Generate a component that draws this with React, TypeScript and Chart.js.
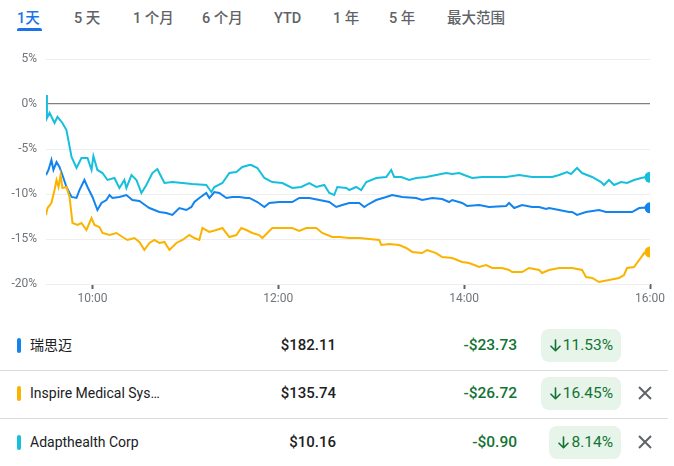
import React, { useEffect, useRef } from 'react';
import { Chart, registerables } from 'chart.js';

Chart.register(...registerables);

// ---------- data ----------
const tabLabels = ['1天', '5 天', '1 个月', '6 个月', 'YTD', '1 年', '5 年', '最大范围'];

// minutes after 9:30
const xTickMinutes = [30, 150, 270, 390];
const xTickLabels = ['10:00', '12:00', '14:00', '16:00'];

// [minutes after 9:30, % change]
const resmedPoints: [number, number][] = [
  [0, -7.89], [1.6, -7.33], [3.5, -6.22], [4.8, -7.33], [6.8, -6.44], [8.7, -7.0], [10.6, -7.89],
  [13.2, -9.22], [16.5, -10.33], [19.7, -10.44], [21.6, -9.56], [24.8, -8.44], [26.8, -9.22],
  [30, -10.33], [33.2, -11.78], [35.8, -11.0], [39, -10.67], [41, -10.11], [42.9, -10.44],
  [47.4, -10.33], [51.9, -10.11], [55.8, -10.67], [60.3, -10.78], [64.8, -11.33], [66.8, -11.56],
  [73.2, -12.0], [77.7, -12.11], [81.6, -12.33], [86.1, -11.56], [90.6, -11.78], [93.9, -11.44],
  [95.8, -10.89], [99, -10.44], [103.5, -9.89], [105.5, -10.44], [108.7, -9.78], [111.9, -9.89],
  [116.5, -10.44], [120.3, -10.33], [124.8, -10.33], [129.4, -10.44], [131.3, -10.44],
  [136.5, -10.89], [141, -11.44], [144.2, -11.0], [150.6, -10.89], [159, -10.89], [163.5, -10.44],
  [170, -10.44], [176.5, -10.67], [182.9, -10.89], [187.4, -11.44], [191.3, -11.22], [195.8, -11.0],
  [200.3, -11.0], [202.3, -11.0], [205.5, -11.44], [207.4, -11.22], [213.2, -10.67], [219.7, -10.33],
  [223.5, -10.11], [230, -10.33], [239, -10.44], [242.9, -10.67], [249.4, -10.44], [255.8, -10.56],
  [260.3, -10.89], [262.3, -10.67], [268.7, -11.0], [271.9, -11.33], [279.7, -11.22], [286.1, -11.44],
  [297.1, -11.33], [299, -11.0], [302.3, -11.56], [307.4, -11.22], [313.9, -11.44], [318.4, -11.44],
  [322.9, -11.67], [324.8, -11.56], [331.3, -11.78], [337.7, -12.0], [339.7, -12.0], [342.9, -12.33],
  [348.7, -12.0], [357.1, -11.78], [361.6, -12.0], [365.5, -12.0], [371.9, -12.0], [378.4, -12.0],
  [383, -11.56], [387.6, -11.5], [390, -11.53],
];

const inspirePoints: [number, number][] = [
  [0, -12.33], [1, -11.56], [3.5, -11.0], [5.5, -9.56], [6.8, -8.44], [8.1, -9.22], [9.4, -7.89],
  [10.6, -9.33], [13.2, -9.22], [15.2, -10.33], [17.1, -13.22], [20.3, -13.44], [22.9, -13.22],
  [26.1, -14.0], [29.4, -12.67], [31.3, -13.44], [34.5, -13.67], [36.5, -14.33], [41, -14.56],
  [45.5, -14.33], [49.4, -14.78], [52.6, -15.11], [57.1, -14.89], [60.3, -15.33], [63.5, -16.22],
  [66.8, -15.44], [70, -15.11], [73.2, -15.44], [76.5, -15.33], [79.7, -16.22], [84.2, -15.44],
  [88.1, -15.11], [92.6, -14.56], [95.8, -14.89], [99, -15.11], [101, -13.78], [105.5, -14.22],
  [110, -14.0], [113.9, -13.78], [118.4, -14.78], [122.9, -14.56], [126.1, -13.78], [129.4, -14.0],
  [133.2, -14.33], [137.7, -14.56], [139.7, -14.89], [142.9, -14.33], [146.1, -13.78], [152.6, -13.78],
  [159, -13.78], [163.5, -14.11], [168, -13.78], [174.5, -13.78], [178.4, -14.33], [184.8, -14.78],
  [189.4, -14.78], [195.8, -14.89], [202.3, -14.89], [208.7, -15.0], [215.2, -15.11], [216.5, -15.67],
  [221.6, -15.56], [228, -15.67], [232.6, -16.0], [236.5, -16.44], [242.9, -16.56], [246.1, -16.22],
  [251.9, -16.56], [255.8, -17.0], [262.3, -17.11], [268.7, -17.56], [273.2, -17.67], [276.5, -17.89],
  [279.7, -18.11], [284.2, -17.89], [288.1, -18.22], [294.5, -18.22], [299, -18.44], [301, -18.67],
  [307.4, -18.67], [311.9, -18.22], [318.4, -18.44], [320.3, -18.78], [324.8, -18.44], [331.3, -18.22],
  [339.7, -18.22], [346.1, -18.44], [348.7, -19.22], [352.6, -19.33], [357.1, -19.78], [363.5, -19.56],
  [370, -19.33], [373.2, -19.0], [375.2, -18.22], [379.7, -18.11], [383, -17.33], [386.3, -16.56],
  [390, -16.45],
];

const adaptPoints: [number, number][] = [
  [0, 1.0], [0.6, -1.56], [2.3, -0.97], [5.5, -2.11], [7.4, -1.44], [10.6, -2.11], [13.2, -2.89],
  [16.5, -5.89], [19.7, -7.11], [22.9, -6.0], [26.8, -6.0], [29.4, -7.33], [30.6, -5.78], [33.2, -7.33],
  [36.5, -7.67], [39.7, -8.44], [44.2, -8.22], [47.4, -9.33], [50.6, -8.44], [51.9, -9.33],
  [55.2, -7.89], [58.4, -8.44], [61.6, -9.89], [64.8, -9.0], [68.7, -7.67], [71.9, -7.22],
  [74.5, -8.11], [76.5, -8.78], [81.6, -8.67], [88.1, -8.78], [94.5, -8.89], [103.5, -9.0],
  [106.8, -9.78], [108.7, -9.22], [113.9, -8.78], [118.4, -7.67], [122.9, -7.56], [126.8, -7.0],
  [131.3, -6.78], [132.6, -6.78], [136.5, -7.11], [141, -8.22], [146.1, -8.67], [152.6, -8.78],
  [159, -9.33], [164.8, -9.22], [170, -8.78], [174.5, -9.22], [179.7, -9.0], [182.9, -9.89],
  [186.1, -10.11], [188.1, -9.22], [193.9, -9.33], [195.8, -9.56], [200.3, -9.22], [203.5, -9.56],
  [206.8, -8.67], [213.2, -8.22], [219.7, -8.11], [222.9, -7.33], [224.8, -8.11], [229.4, -8.11],
  [234.5, -8.44], [239, -8.22], [245.5, -8.11], [251.9, -7.89], [258.4, -7.67], [262.3, -7.78],
  [266.8, -7.67], [270, -7.89], [275.2, -8.22], [281.6, -8.11], [288.1, -8.11], [297.1, -8.11],
  [305.5, -7.89], [313.9, -8.11], [322.9, -8.11], [326.8, -8.11], [331.3, -7.89], [336.5, -7.56],
  [339, -7.78], [342.9, -7.11], [346.1, -7.67], [352.6, -8.11], [358.4, -8.67], [360.3, -9.0],
  [363.5, -8.44], [366.8, -9.0], [371.3, -8.67], [375.2, -8.78], [379.7, -8.44], [384.3, -8.22],
  [387.6, -8.11], [390, -8.14],
];

const seriesNames = ['瑞思迈', 'Inspire Medical Sys…', 'Adapthealth Corp'];
const seriesPrices = ['$182.11', '$135.74', '$10.16'];
const seriesChanges = ['-$23.73', '-$26.72', '-$0.90'];
const seriesChangePcts = ['11.53%', '16.45%', '8.14%'];
const seriesRemovable = [false, true, true];

// ---------- styles ----------
const BLUE = '#1284f0';
const YELLOW = '#fab400';
const CYAN = '#16bfdc';
const seriesColors = [BLUE, YELLOW, CYAN];
const FONT = 'Roboto, "Noto Sans CJK SC", "Noto Sans", sans-serif';
const tabLefts = [17, 74, 133, 202, 274, 333, 389, 447];
const rowCenters = [345, 393, 442];

function ArrowDown() {
  return (
    <svg width="11" height="13" viewBox="0 0 11 13" style={{ display: 'block' }}>
      <path d="M5.5 1 V11.5 M1 7.2 L5.5 11.7 L10 7.2" stroke="#137333" strokeWidth="1.6" fill="none" strokeLinecap="round" strokeLinejoin="round" />
    </svg>
  );
}

function CloseIcon() {
  return (
    <svg width="16" height="16" viewBox="0 0 16 16" style={{ display: 'block' }}>
      <path d="M2 2 L14 14 M14 2 L2 14" stroke="#5f6368" strokeWidth="2" fill="none" />
    </svg>
  );
}

export default function App() {
  const canvasRef = useRef<HTMLCanvasElement | null>(null);

  useEffect(() => {
    document.body.style.margin = '0';
    const canvas = canvasRef.current;
    if (!canvas) return;
    const mk = (label: string, pts: [number, number][], color: string) => ({
      label,
      data: pts.map(([x, y]) => ({ x, y })),
      borderColor: color,
      backgroundColor: color,
      borderWidth: 2,
      tension: 0,
      fill: false,
      pointRadius: (c: any) => (c.dataIndex === pts.length - 1 ? 5.5 : 0),
      pointBorderWidth: 0,
      pointHoverRadius: 0,
    });
    const chart = new Chart(canvas, {
      type: 'line',
      data: {
        datasets: [
          mk(seriesNames[1], inspirePoints, YELLOW),
          mk(seriesNames[0], resmedPoints, BLUE),
          mk(seriesNames[2], adaptPoints, CYAN),
        ] as any,
      },
      options: {
        animation: false,
        responsive: false,
        events: [],
        layout: { padding: { top: 19, right: 24, left: 0, bottom: 0 } },
        plugins: { legend: { display: false }, tooltip: { enabled: false } },
        scales: {
          x: {
            type: 'linear',
            min: 0,
            max: 390,
            afterBuildTicks: (s: any) => {
              s.ticks = xTickMinutes.map((v) => ({ value: v }));
            },
            afterFit: (s: any) => {
              s.height = 36;
            },
            ticks: {
              autoSkip: false,
              maxRotation: 0,
              padding: 3,
              color: '#70757a',
              font: { family: FONT, size: 12 },
              callback: (v: any) => {
                const i = xTickMinutes.indexOf(Number(v));
                return i >= 0 ? xTickLabels[i] : '';
              },
            },
            grid: {
              drawOnChartArea: false,
              drawTicks: true,
              tickLength: 5,
              color: '#5f6368',
              tickColor: '#5f6368',
              tickWidth: 2,
            },
            border: { display: false },
          },
          y: {
            min: -20,
            max: 5,
            afterFit: (s: any) => {
              s.width = 46;
            },
            ticks: {
              stepSize: 5,
              padding: 9,
              color: '#70757a',
              font: { family: FONT, size: 12 },
              callback: (v: any) => `${v}%`,
            },
            grid: {
              drawTicks: false,
              color: (c: any) => (c.tick && c.tick.value === 0 ? '#7f7f7f' : '#eeeeee'),
              lineWidth: (c: any) => (c.tick && c.tick.value === 0 ? 1.3 : 1),
            },
            border: { display: false },
          },
        },
      } as any,
    });
    return () => chart.destroy();
  }, []);

  return (
    <div style={{ position: 'relative', width: 674, height: 466, overflow: 'hidden', fontFamily: FONT, background: '#fff' }}>
      {tabLabels.map((t, i) => (
        <div
          key={t}
          style={{
            position: 'absolute',
            left: tabLefts[i],
            top: 9,
            height: 20,
            lineHeight: '20px',
            fontSize: 14.5,
            fontWeight: 500,
            color: i === 0 ? '#1a73e8' : '#5f6368',
            whiteSpace: 'nowrap',
          }}
        >
          {t}
        </div>
      ))}
      <div style={{ position: 'absolute', left: 17, top: 28, width: 25, height: 3, background: '#1a73e8', borderRadius: '2px 2px 0 0' }} />

      <canvas ref={canvasRef} width={674} height={280} style={{ position: 'absolute', left: 0, top: 40, width: 674, height: 280 }} />

      {[370, 418].map((y) => (
        <div key={y} style={{ position: 'absolute', left: 0, top: y, width: 668, height: 1, background: '#dadce0' }} />
      ))}

      {seriesNames.map((name, i) => {
        const cy = rowCenters[i];
        return (
          <React.Fragment key={name}>
            <div style={{ position: 'absolute', left: 17, top: cy - 7.5, width: 3.5, height: 15, borderRadius: 2, background: seriesColors[i] }} />
            <div style={{ position: 'absolute', left: 30, top: cy - 11, height: 22, lineHeight: '22px', fontSize: 14, color: '#202124', whiteSpace: 'nowrap' }}>
              {name}
            </div>
            <div style={{ position: 'absolute', right: 674 - 336, top: cy - 11, height: 22, lineHeight: '22px', fontSize: 15, fontWeight: 500, color: '#202124', whiteSpace: 'nowrap' }}>
              {seriesPrices[i]}
            </div>
            <div style={{ position: 'absolute', right: 674 - 517, top: cy - 11, height: 22, lineHeight: '22px', fontSize: 15.5, fontWeight: 500, color: '#137333', whiteSpace: 'nowrap' }}>
              {seriesChanges[i]}
            </div>
            <div
              style={{
                position: 'absolute',
                right: 674 - 621,
                top: cy - 16.5,
                height: 33,
                padding: '0 8px 0 9px',
                borderRadius: 8,
                background: '#e6f4ea',
                display: 'flex',
                alignItems: 'center',
                gap: 2,
                color: '#137333',
                fontSize: 15.5,
                fontWeight: 400,
                whiteSpace: 'nowrap',
              }}
            >
              <ArrowDown />
              <span>{seriesChangePcts[i]}</span>
            </div>
            {seriesRemovable[i] && (
              <div style={{ position: 'absolute', left: 637, top: cy - 8 }}>
                <CloseIcon />
              </div>
            )}
          </React.Fragment>
        );
      })}
    </div>
  );
}
